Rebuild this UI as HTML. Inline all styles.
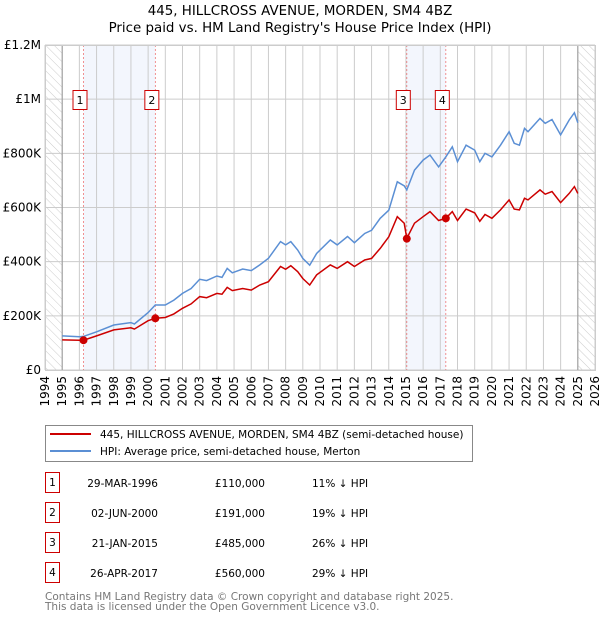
<!DOCTYPE html>
<html><head><meta charset="utf-8"><style>
body{margin:0;background:#fff;font-family:"Liberation Sans","DejaVu Sans",sans-serif;}
svg text{font-family:"DejaVu Sans","Liberation Sans",sans-serif;}
</style></head><body>
<svg id="c" width="600" height="620" xmlns="http://www.w3.org/2000/svg">
<defs><pattern id="hatch" width="6" height="6" patternUnits="userSpaceOnUse" patternTransform="rotate(-45)"><line x1="0" y1="0" x2="0" y2="6" stroke="#ccc" stroke-width="1"/></pattern></defs>
<text x="300" y="15" text-anchor="middle" font-size="13.4" fill="#000">445, HILLCROSS AVENUE, MORDEN, SM4 4BZ</text>
<text x="300" y="32" text-anchor="middle" font-size="13.4" fill="#000">Price paid vs. HM Land Registry's House Price Index (HPI)</text>
<g id="plot"></g>
<rect x="45.5" y="425.5" width="427" height="36" fill="#fff" stroke="#888"/>
<line x1="50" y1="434" x2="91" y2="434" stroke="#cc0000" stroke-width="2"/>
<text x="100" y="438" font-size="10.5">445, HILLCROSS AVENUE, MORDEN, SM4 4BZ (semi-detached house)</text>
<line x1="50" y1="451" x2="91" y2="451" stroke="#5b8fd4" stroke-width="2"/>
<text x="100" y="455" font-size="10.5">HPI: Average price, semi-detached house, Merton</text>
<g id="table"></g>
<text x="45" y="600" font-size="10.5" fill="#777">Contains HM Land Registry data © Crown copyright and database right 2025.</text>
<text x="45" y="610" font-size="10.5" fill="#777">This data is licensed under the Open Government Licence v3.0.</text>
</svg>
<script>
const yearsData=[1995,1996,1996.24,1997,1998,1999,1999.2,2000,2000.42,2001,2001.5,2002,2002.5,2003,2003.4,2004,2004.3,2004.6,2004.9,2005.5,2006,2006.5,2007,2007.7,2008,2008.3,2008.7,2009,2009.4,2009.8,2010.6,2011,2011.6,2012,2012.6,2013,2013.5,2014,2014.5,2014.9,2015.05,2015.5,2016,2016.4,2016.9,2017.32,2017.7,2018,2018.5,2019,2019.3,2019.6,2020,2020.5,2021,2021.3,2021.6,2021.9,2022.1,2022.8,2023.1,2023.5,2024,2024.5,2024.8,2025];
const hpiValues=[126,123,124,141,166,175,170,212,240,240,258,283,301,335,330,347,342,375,359,373,367,388,412,474,462,474,443,412,387,430,480,462,493,470,504,516,560,590,695,680,665,738,775,794,750,787,824,769,830,812,769,800,787,830,880,837,830,892,880,929,911,925,868,923,950,913];
const priceValues=[111,110,110,126,148,156,151,182,191,194,207,228,244,271,267,283,280,305,293,301,295,314,326,382,372,385,363,338,314,351,388,375,400,382,406,412,449,492,566,542,486,542,566,585,552,560,585,552,594,580,549,574,560,591,628,594,591,634,628,665,649,659,618,652,677,652];
const saleYears=[1996.24,2000.42,2015.05,2017.32];
const salePrices=[110000,191000,485000,560000];
const saleDates=["29-MAR-1996","02-JUN-2000","21-JAN-2015","26-APR-2017"];
const salePriceLabels=["£110,000","£191,000","£485,000","£560,000"];
const saleDiffs=["11% ↓ HPI","19% ↓ HPI","26% ↓ HPI","29% ↓ HPI"];
const yTickValues=[0,200000,400000,600000,800000,1000000,1200000];
const yTickLabels=["£0","£200K","£400K","£600K","£800K","£1M","£1.2M"];
const xTickYears=[1994,1995,1996,1997,1998,1999,2000,2001,2002,2003,2004,2005,2006,2007,2008,2009,2010,2011,2012,2013,2014,2015,2016,2017,2018,2019,2020,2021,2022,2023,2024,2025,2026];

const NS="http://www.w3.org/2000/svg";
const L=45,R=595,T=45,B=370;
const xs=y=>L+(y-1994)/(2026-1994)*(R-L);
const ys=v=>B-v/1200000*(B-T);
function mk(tag,attrs,parent){const e=document.createElementNS(NS,tag);for(const k in attrs)e.setAttribute(k,attrs[k]);parent.appendChild(e);return e;}
const plot=document.getElementById('plot');
let h1=mk('rect',{x:xs(1994),y:T,width:xs(1995)-xs(1994),height:B-T,fill:'url(#hatch)'},plot);


let h2=mk('rect',{x:xs(2025),y:T,width:xs(2026)-xs(2025),height:B-T,fill:'url(#hatch)'},plot);


[[0,1],[2,3]].forEach((p,i)=>{
 const r=mk('rect',{x:xs(saleYears[p[0]]),y:T,width:xs(saleYears[p[1]])-xs(saleYears[p[0]]),height:B-T,fill:'#f3f6fd'},plot);
 
 
});
xTickYears.forEach(y=>{
 const g=mk('line',{x1:xs(y),x2:xs(y),y1:T,y2:B,stroke:'#ccc','stroke-width':1},plot);
 
 
 const t=mk('text',{x:0,y:0,'font-size':12,'text-anchor':'end',transform:`translate(${xs(y)+4},${B+6}) rotate(-90)`},plot);
 t.textContent=y;
 
 
});
yTickValues.forEach((v,i)=>{
 const g=mk('line',{x1:L,x2:R,y1:ys(v),y2:ys(v),stroke:'#ccc','stroke-width':1},plot);
 
 
 const t=mk('text',{x:L-4,y:ys(v)+4,'font-size':12,'text-anchor':'end'},plot);
 t.textContent=yTickLabels[i];
 
 
});
[1995,2025].forEach(y=>{
 const l=mk('line',{x1:xs(y),x2:xs(y),y1:T,y2:B,stroke:'#999','stroke-width':1},plot);
 
 
});
saleYears.forEach((y,i)=>{
 const l=mk('line',{x1:xs(y),x2:xs(y),y1:T,y2:B,stroke:'#ee7777','stroke-width':0.8,'stroke-dasharray':'2,2'},plot);
 
 
});
function path(vals){return yearsData.map((y,i)=>(i?'L':'M')+xs(y).toFixed(1)+','+ys(vals[i]*1000).toFixed(1)).join(' ');}
const hp=mk('path',{d:path(hpiValues),fill:'none',stroke:'#5b8fd4','stroke-width':1.5},plot);


const pp=mk('path',{d:path(priceValues),fill:'none',stroke:'#cc0000','stroke-width':1.5},plot);


saleYears.forEach((y,i)=>{
 const c=mk('circle',{cx:xs(y),cy:ys(salePrices[i]),r:4,fill:'#cc0000'},plot);
 
 
 const b=mk('rect',{x:xs(y)-10.5,y:90.5,width:14,height:19,fill:'#fff',stroke:'#cc0000'},plot);
 
 
 const t=mk('text',{x:xs(y)-3.5,y:104,'font-size':11,'text-anchor':'middle'},plot);
 t.textContent=i+1;
 
 
});
mk('rect',{x:L+0.5,y:T+0.5,width:R-L,height:B-T,fill:'none',stroke:'#ccc'},plot);
const tb=document.getElementById('table');
saleDates.forEach((d,i)=>{
 const cy=483+i*30;
 const b=mk('rect',{x:45.5,y:cy-10.5,width:14,height:20,fill:'#fff',stroke:'#cc0000'},tb);
 
 
 const n=mk('text',{x:52.5,y:cy+3,'font-size':10.5,'text-anchor':'middle'},tb);n.textContent=i+1;
 
 
 const t1=mk('text',{x:158,y:cy+4,'font-size':10.5,'text-anchor':'end'},tb);t1.textContent=d;
 
 
 const t2=mk('text',{x:265,y:cy+4,'font-size':10.5,'text-anchor':'end'},tb);t2.textContent=salePriceLabels[i];
 
 
 const t3=mk('text',{x:312,y:cy+4,'font-size':10.5},tb);t3.textContent=saleDiffs[i];
 
 
});
</script>
</body></html>
